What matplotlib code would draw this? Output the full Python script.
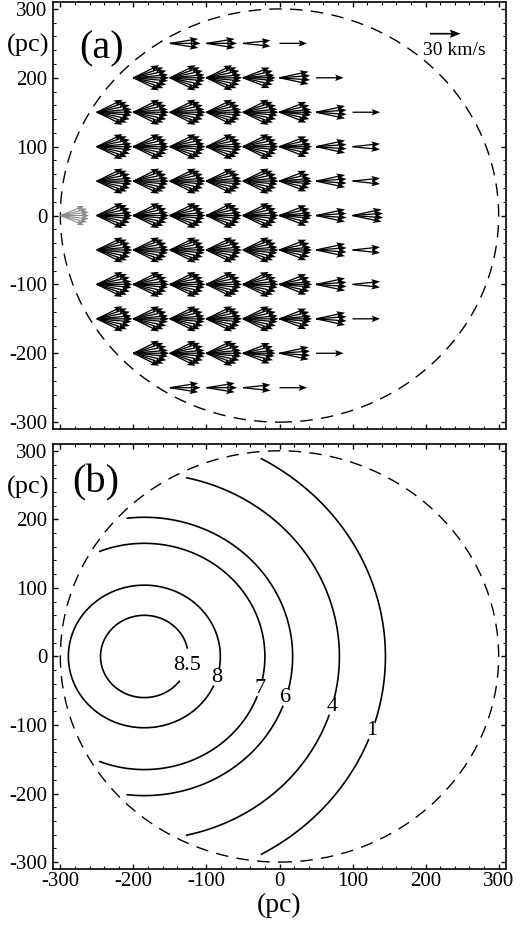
import numpy as np
import matplotlib
matplotlib.use('Agg')
import matplotlib.pyplot as plt
from matplotlib.patches import Circle
from matplotlib.ticker import MultipleLocator

plt.rcParams['font.family'] = ['Liberation Serif', 'DejaVu Serif']
plt.rcParams['axes.unicode_minus'] = False

# ---------------------------------------------------------------------
# Panel (a): fans of velocity vectors on a 50 pc grid
# ---------------------------------------------------------------------
grid_step = 50
row_y = [250, 200, 150, 100, 50, 0, -50, -100, -150, -200, -250]
row_x0 = [-150, -200, -250, -250, -250, -300, -250, -250, -250, -200, -150]
# one letter per grid point, left to right (fan type)
row_fans = ['TTPS', 'WWWFMS', 'WWWWWFMS', 'WWWWWFMP', 'WWWWWFMP', 'GWWWWWFMM',
            'WWWWWFMP', 'WWWWWFMP', 'WWWWWFMS', 'WWWFMS', 'TTPS']

# direction (deg) and speed (km/s) of the arrows in each fan type
fan_angles = {
    'W': [26, 19, 12, 5, 0, -5, -12, -19, -26],
    'F': [21, 13, 5, 0, -5, -13, -21],
    'M': [12, 4, -4, -12],
    'T': [9, 0, -9],
    'P': [6, -6],
    'S': [0],
    'G': [22, 14, 7, 0, -7, -14, -22],
}
fan_speeds = {
    'W': [28, 31, 33, 34, 35, 34, 33, 31, 28],
    'F': [28, 30, 31, 32, 31, 30, 28],
    'M': [29, 30, 30, 29],
    'T': [28, 30, 28],
    'P': [27, 27],
    'S': [27],
    'G': [25, 27, 28, 28, 28, 27, 25],
}

ref_speed = 30          # km/s
ref_length_pc = 42      # length of the 30 km/s arrow in pc
ref_pos = (206, 264)

# ---------------------------------------------------------------------
# Panel (b): contours (roughly circles about one centre)
# ---------------------------------------------------------------------
contour_labels = ['8.5', '8', '7', '6', '4', '1']
contour_radii = [60, 104, 165, 203, 267, 330]
contour_centre = (-185, 0)
label_pos = [(-127, -13), (-85, -31), (-30, -45), (9, -60), (68, -72), (125, -108)]
region_radius = 300
contour_cut = 291

tick_vals = [-300, -200, -100, 0, 100, 200, 300]

# ---------------------------------------------------------------------
fig = plt.figure(figsize=(5.2, 9.27), dpi=100)
ax1 = fig.add_axes([0.102, 0.5372, 0.871, 0.4606])
ax2 = fig.add_axes([0.102, 0.0626, 0.871, 0.4585])


def style_axes(ax):
    ax.set_xlim(-310, 310)
    ax.set_ylim(-310, 310)
    ax.set_xticks(tick_vals)
    ax.set_yticks(tick_vals)
    ax.xaxis.set_minor_locator(MultipleLocator(20))
    ax.yaxis.set_minor_locator(MultipleLocator(20))
    ax.tick_params(which='both', direction='in', top=True, right=True,
                   labelsize=15, pad=4)
    ax.tick_params(axis='x', pad=2.5)
    ax.tick_params(which='major', length=3.6, width=1.0)
    ax.tick_params(which='minor', length=2.2, width=0.8)
    for s in ax.spines.values():
        s.set_linewidth(1.2)
    ax.add_patch(Circle((0, 0), region_radius, fill=False, color='black',
                        lw=1.0, ls=(0, (9, 6))))
    ax.text(-0.008, 247, '(pc)', transform=ax.get_yaxis_transform(),
            ha='right', va='center', fontsize=19)


style_axes(ax1)
style_axes(ax2)
ax1.tick_params(labelbottom=False)

# collect the arrows
xs, ys, us, vs = [], [], [], []
gx, gy, gu, gv = [], [], [], []
for y, x0, fans in zip(row_y, row_x0, row_fans):
    for k, key in enumerate(fans):
        x = x0 + k * grid_step
        ang = np.radians(fan_angles[key])
        spd = np.array(fan_speeds[key], dtype=float)
        if key == 'G':
            tx, ty, tu, tv = gx, gy, gu, gv
        else:
            tx, ty, tu, tv = xs, ys, us, vs
        tx.extend([x] * len(spd))
        ty.extend([y] * len(spd))
        tu.extend(spd * np.cos(ang))
        tv.extend(spd * np.sin(ang))

qkw = dict(angles='uv', scale_units='x', scale=ref_speed / ref_length_pc,
           units='dots', headwidth=5, headlength=6.5, headaxislength=5.5,
           pivot='tail')
ax1.quiver(gx, gy, gu, gv, color='0.55', width=1.1, **qkw)
ax1.quiver(xs, ys, us, vs, color='black', width=1.3, **qkw)
ax1.quiver([ref_pos[0]], [ref_pos[1]], [ref_speed], [0], color='black',
           width=1.7, **qkw)
ax1.text(239, 240, '30 km/s', ha='center', va='center', fontsize=14)
ax1.text(-243, 242, '(a)', ha='center', va='center', fontsize=29)

# contour panel
gxs = np.linspace(-310, 310, 621)
GX, GY = np.meshgrid(gxs, gxs)
R = np.hypot(GX - contour_centre[0], GY - contour_centre[1])
R = np.ma.masked_where(np.hypot(GX, GY) > contour_cut, R)
cs = ax2.contour(GX, GY, R, levels=contour_radii, colors='black',
                 linewidths=1.2)
fmt = dict(zip(cs.levels, contour_labels))
texts = ax2.clabel(cs, fmt=fmt, manual=label_pos, inline=True,
                   inline_spacing=3, fontsize=16)
for t in texts:
    t.set_rotation(0)

ax2.text(-252, 253, '(b)', ha='center', va='center', fontsize=29)
ax2.text(0.5, -0.055, '(pc)', transform=ax2.transAxes, ha='center',
         va='top', fontsize=20)

fig.savefig('out.png', dpi=100)
